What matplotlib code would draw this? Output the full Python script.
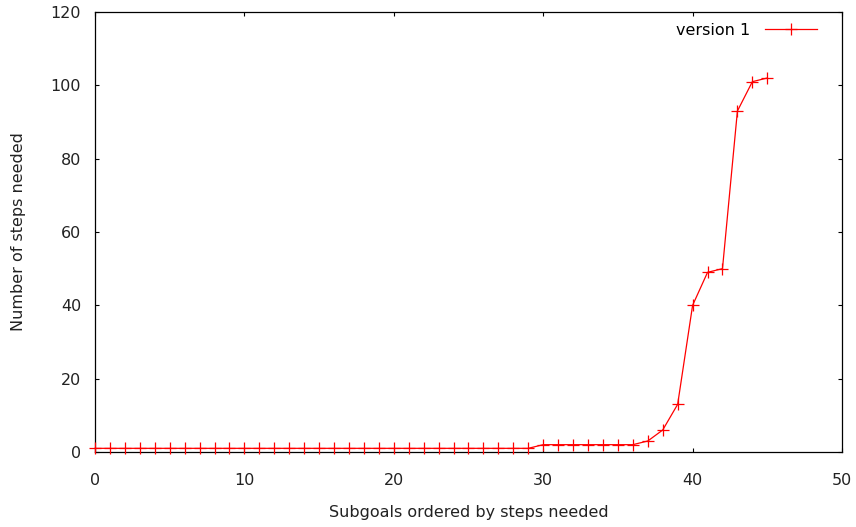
import matplotlib
matplotlib.use("Agg")
import matplotlib.pyplot as plt

x_vals = list(range(46))
steps = [1]*30 + [2]*7 + [3, 6, 13, 40, 49, 50, 93, 101, 102]
series_label = "version 1"
x_ticks = [0, 10, 20, 30, 40, 50]
y_ticks = [0, 20, 40, 60, 80, 100, 120]

W, H = 856, 527
plt.rcParams['font.family'] = ['DejaVu Sans']
fig = plt.figure(figsize=(W/100, H/100), dpi=100)
ax = fig.add_axes([95/W, 1-452/H, (842-95)/W, (452-12)/H])
ax.plot(x_vals, steps, color='#ff0000', lw=0.9, marker='+', markersize=9,
        markeredgewidth=0.9, label=series_label, clip_on=False, zorder=3)
ax.set_xlim(0, 50)
ax.set_ylim(0, 120)
ax.set_xticks(x_ticks)
ax.set_yticks(y_ticks)
ax.tick_params(axis='both', direction='in', top=True, right=True, length=3, width=0.8,
               labelsize=11.5, colors='#000000', labelcolor='#222222')
ax.tick_params(axis='y', pad=10)
ax.tick_params(axis='x', pad=15)
for s in ax.spines.values():
    s.set_linewidth(0.9)
    s.set_color('#000000')
ax.set_xlabel("Subgoals ordered by steps needed", fontsize=11.5, color='#222222', labelpad=12)
ax.set_ylabel("Number of steps needed", fontsize=11.5, color='#222222', labelpad=18)
leg = ax.legend(loc='upper right', frameon=False, markerfirst=False, fontsize=11.5,
                handlelength=3.25, handletextpad=0.95, borderpad=0, borderaxespad=0,
                bbox_to_anchor=(817/W, 1-23/H), bbox_transform=fig.transFigure)
fig.savefig("out.png", dpi=100)
